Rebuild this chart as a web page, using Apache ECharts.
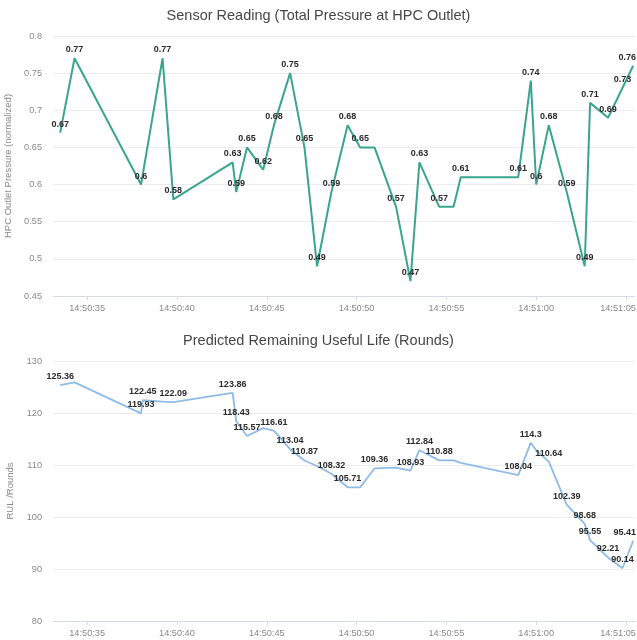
<!DOCTYPE html>
<html>
<head>
<meta charset="utf-8">
<title>HPC Sensor & RUL</title>
<script src="https://cdn.jsdelivr.net/npm/echarts@6/dist/echarts.min.js"></script>
<style>
    html, body { margin: 0; padding: 0; background: #ffffff; }
    #chart { width: 637px; height: 640px; }
</style>
</head>
<body>
<div id="chart"></div>
<script>
// Sample times (HH:MM:SS.s), shared by both series
var sampleTimes = [
    '14:50:33.5', '14:50:34.3', '14:50:38.0', '14:50:38.1', '14:50:39.2', '14:50:39.8',
    '14:50:43.1', '14:50:43.3', '14:50:43.9', '14:50:44.8', '14:50:45.4', '14:50:46.3',
    '14:50:47.1', '14:50:47.8', '14:50:48.6', '14:50:49.5', '14:50:50.2', '14:50:51.0',
    '14:50:52.2', '14:50:53.0', '14:50:53.5', '14:50:54.6', '14:50:55.4', '14:50:55.8',
    '14:50:59.0', '14:50:59.7', '14:51:00.0', '14:51:00.7', '14:51:01.7', '14:51:02.7',
    '14:51:03.0', '14:51:04.0', '14:51:04.8', '14:51:05.4'
];

// Total pressure at HPC outlet (normalized)
var pressureValues = [
    0.67, 0.77, 0.60, 0.60, 0.77, 0.58,
    0.63, 0.59, 0.65, 0.62, 0.68, 0.75,
    0.65, 0.49, 0.59, 0.68, 0.65, 0.65,
    0.57, 0.47, 0.63, 0.57, 0.57, 0.61,
    0.61, 0.74, 0.60, 0.68, 0.59, 0.49,
    0.71, 0.69, 0.73, 0.76
];

// Predicted remaining useful life (rounds)
var rulValues = [
    125.36, 125.9, 119.93, 122.45, 122.2, 122.09,
    123.86, 118.43, 115.57, 117.1, 116.61, 113.04,
    110.87, 109.8, 108.32, 105.71, 105.7, 109.36,
    109.5, 108.93, 112.84, 110.88, 110.9, 110.4,
    108.04, 114.3, 112.8, 110.64, 102.39, 98.68,
    95.55, 92.21, 90.14, 95.41
];

// x-axis tick labels
var timeTicks = ['14:50:35', '14:50:40', '14:50:45', '14:50:50', '14:50:55', '14:51:00', '14:51:05'];

var axisStart = '14:50:33.1';
var axisEnd = '14:51:05.5';

var FONT = '"Liberation Sans", Arial, sans-serif';
var LABEL_GREY = '#888888';
var RIGHT_EDGE = 636;

// time string -> ms (timestamps are plotted on a numeric axis)
function toTime(str) {
    var p = str.split(':');
    var secs = parseFloat(p[2]);
    var whole = Math.floor(secs);
    return new Date(2024, 0, 15, +p[0], +p[1], whole, Math.round((secs - whole) * 1000)).getTime();
}

function pad(n) {
    return n < 10 ? '0' + n : '' + n;
}

var tickValues = timeTicks.map(toTime);
var lastTick = tickValues[tickValues.length - 1];

function timeLabel(value) {
    var d = new Date(value);
    var txt = pad(d.getHours()) + ':' + pad(d.getMinutes()) + ':' + pad(d.getSeconds());
    // last label is pulled in so it stays inside the canvas
    return value === lastTick ? '{last|' + txt + '}' : txt;
}

function pairs(values) {
    var out = [];
    for (var i = 0; i < values.length; i++) {
        out.push([toTime(sampleTimes[i]), values[i]]);
    }
    return out;
}

function xAxisFor(gridIndex) {
    return {
        type: 'value',
        gridIndex: gridIndex,
        min: toTime(axisStart),
        max: toTime(axisEnd),
        axisLine: { show: true, lineStyle: { color: '#d5dbe6' } },
        axisTick: { show: true, length: 4, customValues: tickValues, lineStyle: { color: '#d5dbe6' } },
        splitLine: { show: false },
        axisLabel: {
            color: LABEL_GREY,
            fontSize: 9.2,
            margin: 8,
            customValues: tickValues,
            formatter: timeLabel,
            rich: {
                last: { color: LABEL_GREY, fontSize: 9.2, fontFamily: FONT, padding: [0, 16, 0, 0] }
            }
        }
    };
}

function yAxisFor(gridIndex, name, min, max, interval) {
    return {
        type: 'value',
        gridIndex: gridIndex,
        name: name,
        nameLocation: 'middle',
        nameGap: 32,
        nameTextStyle: { color: LABEL_GREY, fontSize: 9.5 },
        min: min,
        max: max,
        interval: interval,
        axisLine: { show: false },
        axisTick: { show: false },
        axisLabel: { color: LABEL_GREY, fontSize: 9.2, margin: 11 },
        splitLine: { lineStyle: { color: '#ececec', width: 1 } }
    };
}

function lineSeries(idx, values, color, width) {
    return {
        type: 'line',
        xAxisIndex: idx,
        yAxisIndex: idx,
        data: pairs(values),
        symbol: 'circle',
        symbolSize: 0,
        showSymbol: true,
        lineStyle: { color: color, width: width },
        itemStyle: { color: color },
        label: {
            show: true,
            position: 'top',
            distance: 4,
            color: '#2b2b2b',
            fontSize: 9,
            fontWeight: 'bold',
            formatter: function(p) { return p.value[1]; }
        },
        // hide colliding labels, nudge the ones at the right edge back inside
        labelLayout: function(p) {
            var over = p.labelRect.x + p.labelRect.width - RIGHT_EDGE;
            return { hideOverlap: true, dx: over > 0 ? -over : 0 };
        },
        animation: false
    };
}

var chart = echarts.init(document.getElementById('chart'));

chart.setOption({
    backgroundColor: '#ffffff',
    textStyle: { fontFamily: FONT },
    title: [
        {
            text: 'Sensor Reading (Total Pressure at HPC Outlet)',
            left: 'center',
            top: 3,
            textStyle: { fontSize: 14.5, fontWeight: 'normal', color: '#464646', fontFamily: FONT }
        },
        {
            text: 'Predicted Remaining Useful Life (Rounds)',
            left: 'center',
            top: 328,
            textStyle: { fontSize: 14.5, fontWeight: 'normal', color: '#464646', fontFamily: FONT }
        }
    ],
    // outerBoundsMode none: keep the plot area where it is, labels may hang over
    grid: [
        { left: 53, right: 2, top: 36, height: 260, outerBoundsMode: 'none' },
        { left: 53, right: 2, top: 361, height: 260, outerBoundsMode: 'none' }
    ],
    xAxis: [xAxisFor(0), xAxisFor(1)],
    yAxis: [
        yAxisFor(0, 'HPC Outlet Pressure (normalized)', 0.45, 0.8, 0.05),
        yAxisFor(1, 'RUL /Rounds', 80, 130, 10)
    ],
    series: [
        lineSeries(0, pressureValues, '#3aa58e', 2),
        lineSeries(1, rulValues, '#8fbbe8', 1.8)
    ]
});
</script>
</body>
</html>
